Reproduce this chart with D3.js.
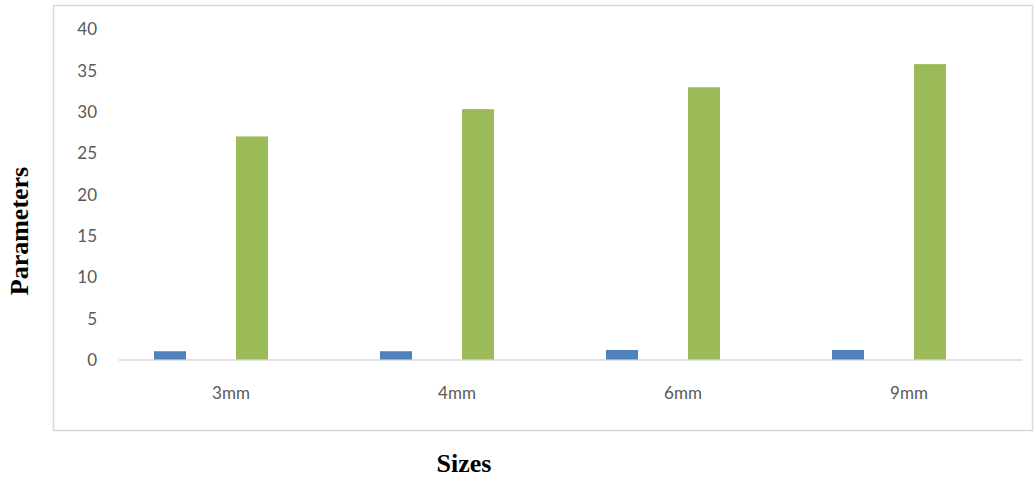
<!DOCTYPE html>
<html><head><meta charset="utf-8">
<script src="https://cdn.jsdelivr.net/npm/d3@7"></script>
<style>body{margin:0;background:#fff}svg{display:block}</style>
</head><body>
<svg id="c" width="1035" height="478"></svg>
<script>
const categories = ["3mm","4mm","6mm","9mm"];
const seriesNames = ["Series1","Series2","Series3"];
const series1 = [1.0, 1.0, 1.15, 1.15];
const series3 = [27.0, 30.3, 32.95, 35.75];
const yTicks = [0,5,10,15,20,25,30,35,40];

const svg = d3.select("#c");
// chart border
svg.append("rect").attr("x",53.5).attr("y",5.5).attr("width",979).attr("height",425)
  .attr("fill","none").attr("stroke","#d9d9d9").attr("stroke-width",1.5);

const x0 = d3.scaleBand().domain(categories).range([118,1022]).padding(0);
const x1 = d3.scaleBand().domain(seriesNames).range([36,150]).paddingInner(9/41).paddingOuter(0);
const y = d3.scaleLinear().domain([0,40]).range([359.5,29]);

// y axis labels
const yAxis = d3.axisLeft(y).tickValues(yTicks).tickSize(0).tickPadding(0);
const gy = svg.append("g").attr("transform","translate(97,0)").call(yAxis);
gy.select(".domain").remove();
gy.selectAll("text").attr("font-family","Lato, 'Open Sans', sans-serif").attr("font-size",17)
  .attr("fill","#595959").attr("dy","0.35em");

// baseline / x axis
const xAxis = d3.axisBottom(x0).tickSize(0).tickPadding(0);
const gx = svg.append("g").attr("transform","translate(0,359.5)").call(xAxis);
gx.select(".domain").attr("stroke","#d9d9d9").attr("stroke-width",1.5);
gx.selectAll("text").attr("font-family","Lato, 'Open Sans', sans-serif").attr("font-size",17)
  .attr("fill","#595959").attr("y",34).attr("dy","0.35em");

const data = categories.map((c,i)=>({c, s1:series1[i], s3:series3[i]}));
const g = svg.append("g");
g.selectAll(".b1").data(data).join("rect").attr("class","b1")
  .attr("x",d=>x0(d.c)+x1("Series1")).attr("width",x1.bandwidth())
  .attr("y",d=>y(d.s1)).attr("height",d=>y(0)-y(d.s1)).attr("fill","#4f81bd");
g.selectAll(".b3").data(data).join("rect").attr("class","b3")
  .attr("x",d=>x0(d.c)+x1("Series3")).attr("width",x1.bandwidth())
  .attr("y",d=>y(d.s3)).attr("height",d=>y(0)-y(d.s3)).attr("fill","#9bbb59");

// axis titles
svg.append("text").attr("x",464).attr("y",472).attr("text-anchor","middle")
  .attr("font-family","'Liberation Serif','Times New Roman',serif").attr("font-weight","bold")
  .attr("font-size",26).attr("fill","#000").text("Sizes");
svg.append("text").attr("transform","translate(28,231) rotate(-90)").attr("text-anchor","middle")
  .attr("font-family","'Liberation Serif','Times New Roman',serif").attr("font-weight","bold")
  .attr("font-size",26).attr("fill","#000").text("Parameters");
</script>
</body></html>
